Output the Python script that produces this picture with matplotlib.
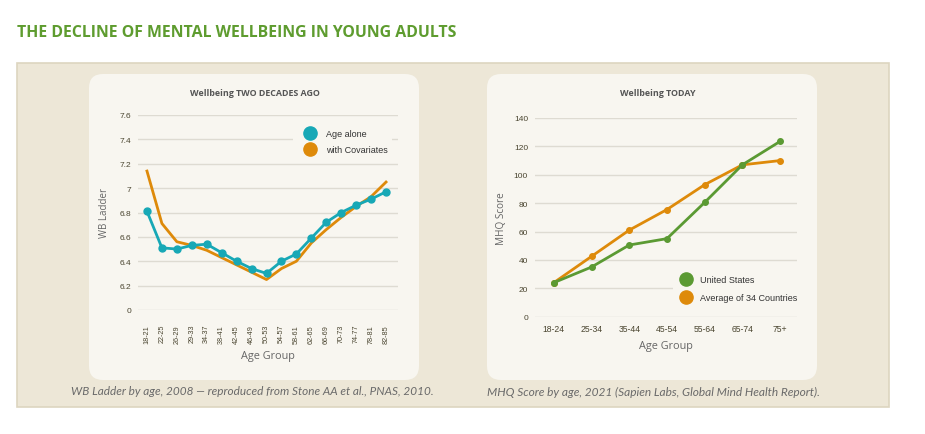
import matplotlib
matplotlib.use("Agg")
import matplotlib.pyplot as plt
from matplotlib.patches import FancyBboxPatch, Rectangle
from matplotlib.lines import Line2D

# ---- data ----
ages_then = ["18-21", "22-25", "26-29", "29-33", "34-37", "38-41", "42-45", "46-49", "50-53",
             "54-57", "58-61", "62-65", "66-69", "70-73", "74-77", "78-81", "82-85"]
age_alone = [6.81, 6.51, 6.50, 6.53, 6.54, 6.47, 6.40, 6.34, 6.30,
             6.40, 6.46, 6.59, 6.72, 6.80, 6.86, 6.91, 6.97]
with_cov = [7.14, 6.71, 6.56, 6.53, 6.49, 6.43, 6.37, 6.31, 6.25,
            6.34, 6.40, 6.55, 6.66, 6.76, 6.85, 6.93, 7.05]
then_yticks = [6.0, 6.2, 6.4, 6.6, 6.8, 7.0, 7.2, 7.4, 7.6]
then_ylabels = ["0", "6.2", "6.4", "6.6", "6.8", "7", "7.2", "7.4", "7.6"]

ages_now = ["18-24", "25-34", "35-44", "45-54", "55-64", "65-74", "75+"]
us_score = [24, 35, 50.5, 55, 80.5, 107, 123.5]
avg34_score = [24, 42.5, 61, 75.5, 93, 107, 110]
now_yticks = [0, 20, 40, 60, 80, 100, 120, 140]

TEAL = "#17a8b6"
ORANGE = "#de8a0a"
GREEN = "#5b9a33"
CARD = "#f8f6f0"
PANEL = "#ede7d7"
GRID = "#dedbd2"
TICK = "#4a4530"

W, H = 925, 435
fig = plt.figure(figsize=(W / 100, H / 100), dpi=100)
fig.patch.set_facecolor("white")

# background in pixel coordinates
bg = fig.add_axes([0, 0, 1, 1])
bg.set_xlim(0, W)
bg.set_ylim(H, 0)
bg.axis("off")
bg.add_patch(Rectangle((17, 64), 872, 344, facecolor=PANEL, edgecolor="#ddd5c0", lw=1.2))
for x0, x1 in [(89, 419), (487, 817)]:
    bg.add_patch(FancyBboxPatch((x0 + 14, 75 + 14), x1 - x0 - 28, 306 - 28,
                                boxstyle="round,pad=14", facecolor=CARD, edgecolor="none"))

bg.text(17, 33, "THE DECLINE OF MENTAL WELLBEING IN YOUNG ADULTS", color="#5e9c2f",
        fontsize=11.4, fontweight="bold", family="Open Sans", va="center", ha="left")
bg.text(255, 93, "Wellbeing TWO DECADES AGO", fontsize=6.4, fontweight="bold",
        family="Open Sans", color="#555555", ha="center", va="center")
bg.text(658, 93, "Wellbeing TODAY", fontsize=6.4, fontweight="bold",
        family="Open Sans", color="#555555", ha="center", va="center")
bg.text(252, 392, "WB Ladder by age, 2008 \u2014 reproduced from Stone AA et al., PNAS, 2010.",
        fontsize=8.5, style="italic", family="Lato", color="#6a6a6a", ha="center", va="center")
bg.text(487, 392, "MHQ Score by age, 2021 (Sapien Labs, Global Mind Health Report).",
        fontsize=8.6, style="italic", family="Lato", color="#6a6a6a", ha="left", va="center")


def px_axes(x0, x1, ytop, ybot):
    return fig.add_axes([x0 / W, 1 - ybot / H, (x1 - x0) / W, (ybot - ytop) / H])


def style(ax):
    ax.set_facecolor("none")
    for s in ax.spines.values():
        s.set_visible(False)
    ax.grid(True, axis="y", color=GRID, lw=1)
    ax.set_axisbelow(True)
    ax.tick_params(length=0, colors=TICK, labelsize=6)
    for lab in ax.get_xticklabels() + ax.get_yticklabels():
        lab.set_family("Liberation Sans")


# ---- left chart ----
ax1 = px_axes(138, 398, 116, 311)
xs = list(range(len(ages_then)))
ax1.plot(xs, with_cov, color=ORANGE, lw=2, zorder=3)
ax1.plot(xs, age_alone, color=TEAL, lw=2, marker="o", ms=5, zorder=4)
ax1.set_xlim(-0.6, 16.8)
ax1.set_ylim(6.0, 7.6)
ax1.set_yticks(then_yticks)
ax1.set_yticklabels(then_ylabels)
ax1.set_xticks(xs)
ax1.set_xticklabels(ages_then, rotation=90)
style(ax1)
ax1.tick_params(axis="x", pad=10, labelsize=5.2)
ax1.tick_params(axis="y", pad=5)
ax1.set_ylabel("WB Ladder", family="Open Sans", fontsize=7, color="#666666", labelpad=7)
ax1.set_xlabel("Age Group", family="Open Sans", fontsize=7.8, color="#666666", labelpad=5)
h1 = [Line2D([], [], ls="", marker="o", ms=9.5, color=TEAL),
      Line2D([], [], ls="", marker="o", ms=9.5, color=ORANGE)]
leg1 = ax1.legend(h1, ["Age alone", "with Covariates"], loc="upper left",
                  bbox_to_anchor=(288 / W, 1 - 122 / H), bbox_transform=fig.transFigure,
                  frameon=True, facecolor=CARD, edgecolor="none", framealpha=1,
                  prop={"family": "Liberation Sans", "size": 6.5}, handletextpad=0.35,
                  labelspacing=0.75, borderpad=0.4, handlelength=3.0, labelcolor="#333333")
leg1.set_zorder(5)

# ---- right chart ----
ax2 = px_axes(535, 797, 119, 317.7)
xs2 = list(range(len(ages_now)))
ax2.plot(xs2, avg34_score, color=ORANGE, lw=2, marker="o", ms=4, zorder=3)
ax2.plot(xs2, us_score, color=GREEN, lw=2, marker="o", ms=4, zorder=4)
ax2.set_xlim(-0.5, 6.45)
ax2.set_ylim(0, 140)
ax2.set_yticks(now_yticks)
ax2.set_xticks(xs2)
ax2.set_xticklabels(ages_now)
style(ax2)
ax2.tick_params(axis="x", pad=5, labelsize=6.2)
ax2.tick_params(axis="y", pad=5)
ax2.set_ylabel("MHQ Score", family="Open Sans", fontsize=7.2, color="#666666", labelpad=5)
ax2.set_xlabel("Age Group", family="Open Sans", fontsize=7.8, color="#666666", labelpad=5)
h2 = [Line2D([], [], ls="", marker="o", ms=9.5, color=GREEN),
      Line2D([], [], ls="", marker="o", ms=9.5, color=ORANGE)]
leg2 = ax2.legend(h2, ["United States", "Average of 34 Countries"], loc="upper left",
                  bbox_to_anchor=(668 / W, 1 - 268 / H), bbox_transform=fig.transFigure,
                  frameon=True, facecolor=CARD, edgecolor="none", framealpha=1,
                  prop={"family": "Liberation Sans", "size": 6.5}, handletextpad=0.5,
                  labelspacing=1.0, borderpad=0.4, handlelength=2.2, labelcolor="#333333")
leg2.set_zorder(5)

fig.savefig("out.png", dpi=100, facecolor="white")
